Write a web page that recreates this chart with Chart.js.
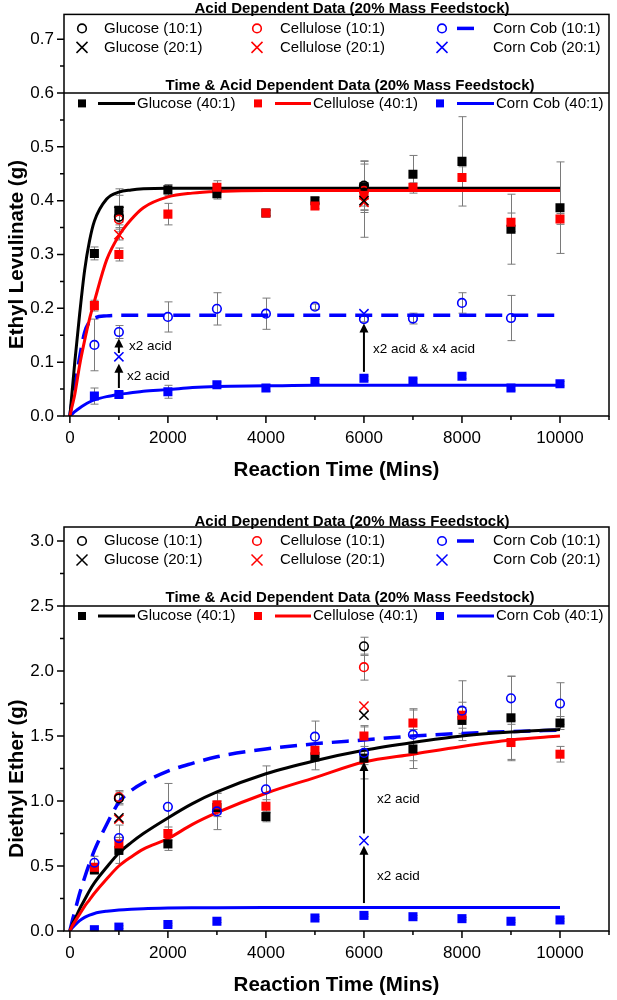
<!DOCTYPE html>
<html><head><meta charset="utf-8">
<script src="https://cdn.jsdelivr.net/npm/chart.js@4.4.1/dist/chart.umd.min.js"></script>
<style>html,body{margin:0;padding:0;background:#fff;}canvas{display:block;}</style>
</head><body>
<canvas id="c1" width="617" height="500"></canvas>
<canvas id="c2" width="617" height="500"></canvas>
<script>
// ---------- shared categories / ticks ----------
const timeMins = [500,1000,2000,3000,4000,5000,6000,7000,8000,9000,10000];
const acidTimes = [1000,6000];
const curveTime = [0,50,100,200,300,400,500,750,1000,1250,1500,2000,2500,3000,4000,5000,6000,7000,8000,9000,10000];
const xMajorTicks = [0,2000,4000,6000,8000,10000];
const xMinorTicks = [1000,3000,5000,7000,9000,11000];
const elYMajorTicks = [0,0.1,0.2,0.3,0.4,0.5,0.6,0.7];
const elYMinorTicks = [0.05,0.15,0.25,0.35,0.45,0.55,0.65];
const deYMajorTicks = [0,0.5,1.0,1.5,2.0,2.5,3.0];
const deYMinorTicks = [0.25,0.75,1.25,1.75,2.25,2.75];

// ---------- Ethyl Levulinate (top) ----------
const elGlucose40 = [0.302,0.382,0.420,0.413,0.377,0.400,0.426,0.449,0.473,0.347,0.387];
const elGlucose40Err = [0.012,0.040,0.010,0.010,0.005,0.006,0.048,0.035,0.083,0.065,0.085];
const elCellulose40 = [0.205,0.300,0.375,0.425,0.377,0.390,0.410,0.425,0.443,0.360,0.366];
const elCellulose40Err = [0.010,0.012,0.020,0.012,0.005,0.005,0.020,0.008,0.020,0.017,0.010];
const elCornCob40 = [0.037,0.040,0.045,0.058,0.052,0.064,0.070,0.065,0.074,0.052,0.060];
const elCornCob40Err = [0.015,0.005,0.012,0.005,0.006,0.004,0.004,0.004,0.004,0.004,0.004];
const elCornCob10 = [0.132,0.156,0.184,0.199,0.190,0.203,0.180,0.181,0.210,0.182,null];
const elCornCob10Err = [0.048,0.012,0.028,0.030,0.029,0.005,0.005,0.010,0.019,0.042,null];
const elGlucose10 = [0.370,0.428];
const elGlucose10Err = [0.010,0.045];
const elGlucose20 = [0.380,0.400];
const elGlucose20Err = [0.030,0.068];
const elCellulose10 = [0.365,0.418];
const elCellulose10Err = [0.010,0.015];
const elCellulose20 = [0.337,0.397];
const elCellulose20Err = [0.010,0.015];
const elCornCob20 = [0.110,0.190];
const elGlucoseFit = [0,0.05,0.10,0.19,0.27,0.325,0.362,0.403,0.416,0.420,0.422,0.423,0.423,0.423,0.423,0.423,0.423,0.423,0.423,0.423,0.423];
const elCelluloseFit = [0,0.02,0.04,0.095,0.14,0.18,0.213,0.29,0.335,0.365,0.387,0.407,0.414,0.417,0.419,0.419,0.419,0.419,0.419,0.419,0.419];
const elCornCob10Fit = [0,0.03,0.055,0.11,0.155,0.175,0.182,0.186,0.187,0.187,0.187,0.187,0.187,0.187,0.187,0.187,0.187,0.187,0.187,0.187,0.187];
const elCornCob40Fit = [0,0.004,0.008,0.015,0.021,0.026,0.030,0.036,0.040,0.043,0.046,0.049,0.053,0.055,0.056,0.057,0.057,0.057,0.057,0.057,0.057];

// ---------- Diethyl Ether (bottom) ----------
const deGlucose40 = [0.47,0.62,0.67,0.95,0.88,1.34,1.33,1.40,1.62,1.64,1.60];
const deGlucose40Err = [0.03,0.10,0.05,0.05,0.04,0.10,0.05,0.15,0.10,0.32,0.05];
const deCellulose40 = [0.49,0.67,0.75,0.97,0.96,1.39,1.50,1.60,1.66,1.45,1.36];
const deCellulose40Err = [0.03,0.05,0.05,0.09,0.05,0.05,0.08,0.10,0.10,0.14,0.06];
const deCornCob40 = [0.01,0.03,0.05,0.075,null,0.10,0.12,0.11,0.095,0.075,0.085];
const deCornCob40Err = [0.01,0.01,0.01,0.01,null,0.01,0.01,0.01,0.01,0.01,0.01];
const deCornCob10 = [0.525,0.715,0.955,0.92,1.09,1.495,1.37,1.51,1.695,1.79,1.75];
const deCornCob10Err = [0.05,0.10,0.18,0.14,0.18,0.12,0.20,0.20,0.23,0.17,0.16];
const deGlucose10 = [1.02,2.19];
const deGlucose10Err = [0.05,0.07];
const deGlucose20 = [0.87,1.66];
const deCellulose10 = [1.03,2.03];
const deCellulose10Err = [0.05,0.10];
const deCellulose20 = [0.86,1.73];
const deCornCob20 = [null,0.695];
const deGlucoseFit = [0,0.05,0.09,0.17,0.24,0.31,0.37,0.49,0.60,0.68,0.75,0.87,0.98,1.07,1.21,1.31,1.39,1.45,1.50,1.53,1.55];
const deCelluloseFit = [0,0.04,0.07,0.13,0.19,0.24,0.29,0.40,0.50,0.57,0.63,0.71,0.82,0.91,1.06,1.18,1.30,1.36,1.42,1.47,1.50];
const deCornCob10Fit = [0,0.08,0.15,0.29,0.41,0.52,0.62,0.82,0.99,1.08,1.14,1.23,1.29,1.34,1.40,1.44,1.47,1.50,1.52,1.535,1.545];
const deCornCob40Fit = [0,0.025,0.045,0.08,0.105,0.122,0.135,0.152,0.162,0.168,0.172,0.176,0.178,0.179,0.18,0.18,0.18,0.18,0.18,0.18,0.18];

// ---------- helpers ----------
const FONT = '"Liberation Sans", Arial, sans-serif';
const BLACK = '#000000', RED = '#ff0000', BLUE = '#0000ff';
const X_MIN = -120, X_MAX = 11000;

function pts(xs, ys) {
  const out = [];
  xs.forEach((x, i) => { if (ys[i] != null) out.push({x: x, y: ys[i]}); });
  return out;
}
function fitDs(ys, color, dashed) {
  return {data: pts(curveTime, ys), showLine: true, pointRadius: 0, borderColor: color,
    borderWidth: dashed ? 3.5 : 3, borderDash: dashed ? [17, 9] : [], cubicInterpolationMode: 'monotone',
    order: 10, fill: false};
}
function squareDs(xs, ys, color) {
  return {data: pts(xs, ys), pointStyle: 'rect', pointRadius: 6.4, backgroundColor: color,
    borderColor: color, borderWidth: 0, showLine: false, order: 5};
}
function circleDs(xs, ys, color) {
  return {data: pts(xs, ys), pointStyle: 'circle', pointRadius: 4.3, backgroundColor: 'rgba(255,255,255,0)',
    borderColor: color, borderWidth: 1.6, showLine: false, order: 1};
}
function crossDs(xs, ys, color) {
  return {data: pts(xs, ys), pointStyle: 'crossRot', pointRadius: 6.5, backgroundColor: color,
    borderColor: color, borderWidth: 1.5, showLine: false, order: 1};
}

function drawMarker(ctx, kind, color, x, y) {
  ctx.save();
  ctx.fillStyle = color; ctx.strokeStyle = color;
  if (kind === 'square') {
    ctx.fillRect(x - 4, y - 4, 8, 8);
  } else if (kind === 'circle') {
    ctx.lineWidth = 1.6; ctx.beginPath(); ctx.arc(x, y, 4.3, 0, Math.PI * 2); ctx.stroke();
  } else if (kind === 'cross') {
    ctx.lineWidth = 1.5; ctx.beginPath();
    ctx.moveTo(x - 5.5, y - 5.5); ctx.lineTo(x + 5.5, y + 5.5);
    ctx.moveTo(x + 5.5, y - 5.5); ctx.lineTo(x - 5.5, y + 5.5); ctx.stroke();
  }
  ctx.restore();
}
function drawSeg(ctx, color, x1, x2, y, w) {
  ctx.save(); ctx.strokeStyle = color; ctx.lineWidth = w; ctx.beginPath();
  ctx.moveTo(x1, y); ctx.lineTo(x2, y); ctx.stroke(); ctx.restore();
}

function makePlugin(cfg) {
  return {
    id: 'panel',
    beforeDatasetsDraw(chart) {
      const ctx = chart.ctx, xs = chart.scales.x, ys = chart.scales.y;
      ctx.save();
      ctx.strokeStyle = '#7a7a7a'; ctx.lineWidth = 1;
      cfg.errors.forEach(set => {
        set.x.forEach((t, i) => {
          const v = set.y[i], e = set.e[i];
          if (v == null || e == null) return;
          const px = Math.round(xs.getPixelForValue(t)) + 0.5;
          const top = ys.getPixelForValue(v + e), bot = ys.getPixelForValue(v - e);
          ctx.beginPath();
          ctx.moveTo(px, top); ctx.lineTo(px, bot);
          ctx.moveTo(px - 4, top); ctx.lineTo(px + 4, top);
          ctx.moveTo(px - 4, bot); ctx.lineTo(px + 4, bot);
          ctx.stroke();
        });
      });
      ctx.restore();
    },
    afterDraw(chart) {
      const ctx = chart.ctx, a = chart.chartArea, xs = chart.scales.x, ys = chart.scales.y;
      ctx.save();
      const sepY = ys.getPixelForValue(cfg.sepValue);
      ctx.strokeStyle = BLACK; ctx.lineWidth = 1.5;
      ctx.beginPath(); ctx.moveTo(a.left, sepY); ctx.lineTo(a.right, sepY); ctx.stroke();
      ctx.strokeRect(a.left, a.top, a.right - a.left, a.bottom - a.top);
      ctx.beginPath();
      xMajorTicks.forEach(t => { const p = xs.getPixelForValue(t); ctx.moveTo(p, a.bottom); ctx.lineTo(p, a.bottom + 7); });
      xMinorTicks.forEach(t => { const p = xs.getPixelForValue(t); ctx.moveTo(p, a.bottom); ctx.lineTo(p, a.bottom + 4); });
      cfg.yMajor.forEach(v => { const p = ys.getPixelForValue(v); ctx.moveTo(a.left, p); ctx.lineTo(a.left - 7, p); });
      cfg.yMinor.forEach(v => { const p = ys.getPixelForValue(v); ctx.moveTo(a.left, p); ctx.lineTo(a.left - 4, p); });
      ctx.stroke();
      ctx.fillStyle = BLACK;
      ctx.font = '17px ' + FONT;
      ctx.textAlign = 'center'; ctx.textBaseline = 'middle';
      xMajorTicks.forEach(t => ctx.fillText(String(t), xs.getPixelForValue(t), a.bottom + 22));
      ctx.textAlign = 'right';
      cfg.yMajor.forEach(v => ctx.fillText(v.toFixed(1), a.left - 10, ys.getPixelForValue(v)));
      ctx.font = 'bold 20.5px ' + FONT;
      ctx.textAlign = 'center';
      ctx.fillText('Reaction Time (Mins)', (a.left + a.right) / 2, a.bottom + 54);
      ctx.save();
      ctx.translate(17, (ys.getPixelForValue(0) + sepY) / 2 + cfg.yTitleShift);
      ctx.rotate(-Math.PI / 2);
      ctx.fillText(cfg.yTitle, 0, 0);
      ctx.restore();
      ctx.font = 'bold 15px ' + FONT;
      ctx.fillText('Acid Dependent Data (20% Mass Feedstock)', 352, a.top - 5.5);
      ctx.fillText('Time & Acid Dependent Data (20% Mass Feedstock)', 350, a.top + 71);
      ctx.font = '15px ' + FONT;
      ctx.textAlign = 'left';
      const r1 = a.top + 14, r2 = a.top + 33, r3 = a.top + 89;
      drawMarker(ctx, 'circle', BLACK, 82, r1); ctx.fillText('Glucose (10:1)', 104, r1);
      drawMarker(ctx, 'circle', RED, 257, r1); ctx.fillText('Cellulose (10:1)', 280, r1);
      drawMarker(ctx, 'circle', BLUE, 442, r1); drawSeg(ctx, BLUE, 457, 474, r1, 3.5); ctx.fillText('Corn Cob (10:1)', 493, r1);
      drawMarker(ctx, 'cross', BLACK, 82, r2); ctx.fillText('Glucose (20:1)', 104, r2);
      drawMarker(ctx, 'cross', RED, 257, r2); ctx.fillText('Cellulose (20:1)', 280, r2);
      drawMarker(ctx, 'cross', BLUE, 442, r2); ctx.fillText('Corn Cob (20:1)', 493, r2);
      drawMarker(ctx, 'square', BLACK, 82, r3); drawSeg(ctx, BLACK, 98, 135, r3, 3); ctx.fillText('Glucose (40:1)', 137, r3);
      drawMarker(ctx, 'square', RED, 258, r3); drawSeg(ctx, RED, 275, 311, r3, 3); ctx.fillText('Cellulose (40:1)', 313, r3);
      drawMarker(ctx, 'square', BLUE, 440, r3); drawSeg(ctx, BLUE, 457, 494, r3, 3); ctx.fillText('Corn Cob (40:1)', 496, r3);
      ctx.font = '13.5px ' + FONT;
      cfg.arrows.forEach(ar => {
        const px = xs.getPixelForValue(ar.t);
        const y1 = ys.getPixelForValue(ar.from), y2 = ys.getPixelForValue(ar.to);
        ctx.strokeStyle = BLACK; ctx.fillStyle = BLACK; ctx.lineWidth = 2;
        ctx.beginPath(); ctx.moveTo(px, y1); ctx.lineTo(px, y2 + 7); ctx.stroke();
        ctx.beginPath(); ctx.moveTo(px, y2); ctx.lineTo(px - 4.5, y2 + 9); ctx.lineTo(px + 4.5, y2 + 9); ctx.closePath(); ctx.fill();
      });
      cfg.labels.forEach(lb => {
        ctx.fillText(lb.text, xs.getPixelForValue(lb.t) + lb.dx, ys.getPixelForValue(lb.v));
      });
      ctx.restore();
    }
  };
}

function makeOptions(yMin, yMax, padTop, xHeight) {
  return {
    responsive: false, animation: false, devicePixelRatio: 1,
    layout: {padding: {top: padTop, right: 7, left: 0, bottom: 0}},
    plugins: {legend: {display: false}, tooltip: {enabled: false}},
    scales: {
      x: {type: 'linear', min: X_MIN, max: X_MAX, ticks: {display: false}, grid: {display: false},
          border: {display: false}, afterFit(s) { s.height = xHeight; }},
      y: {type: 'linear', min: yMin, max: yMax, ticks: {display: false}, grid: {display: false},
          border: {display: false}, afterFit(s) { s.width = 64; }}
    }
  };
}

new Chart(document.getElementById('c1'), {
  type: 'scatter',
  data: {datasets: [
    circleDs(acidTimes, elGlucose10, BLACK),
    circleDs(acidTimes, elCellulose10, RED),
    crossDs(acidTimes, elGlucose20, BLACK),
    crossDs(acidTimes, elCellulose20, RED),
    crossDs(acidTimes, elCornCob20, BLUE),
    circleDs(timeMins, elCornCob10, BLUE),
    squareDs(timeMins, elCornCob40, BLUE),
    squareDs(timeMins, elCellulose40, RED),
    squareDs(timeMins, elGlucose40, BLACK),
    fitDs(elCelluloseFit, RED, false),
    fitDs(elGlucoseFit, BLACK, false),
    fitDs(elCornCob10Fit, BLUE, true),
    fitDs(elCornCob40Fit, BLUE, false)
  ]},
  options: makeOptions(0, 0.746, 14.4, 84),
  plugins: [makePlugin({
    yMajor: elYMajorTicks, yMinor: elYMinorTicks, sepValue: 0.6, yTitle: 'Ethyl Levulinate (g)', yTitleShift: 0,
    errors: [
      {x: timeMins, y: elGlucose40, e: elGlucose40Err},
      {x: timeMins, y: elCellulose40, e: elCellulose40Err},
      {x: timeMins, y: elCornCob40, e: elCornCob40Err},
      {x: timeMins, y: elCornCob10, e: elCornCob10Err},
      {x: acidTimes, y: elGlucose10, e: elGlucose10Err},
      {x: acidTimes, y: elGlucose20, e: elGlucose20Err},
      {x: acidTimes, y: elCellulose10, e: elCellulose10Err},
      {x: acidTimes, y: elCellulose20, e: elCellulose20Err}
    ],
    arrows: [
      {t: 1000, from: 0.052, to: 0.097},
      {t: 1000, from: 0.117, to: 0.144},
      {t: 6000, from: 0.082, to: 0.172}
    ],
    labels: [
      {text: 'x2 acid', t: 1000, dx: 10, v: 0.130},
      {text: 'x2 acid', t: 1000, dx: 8, v: 0.074},
      {text: 'x2 acid & x4 acid', t: 6000, dx: 9, v: 0.124}
    ]
  })]
});

new Chart(document.getElementById('c2'), {
  type: 'scatter',
  data: {datasets: [
    circleDs(acidTimes, deGlucose10, BLACK),
    circleDs(acidTimes, deCellulose10, RED),
    crossDs(acidTimes, deGlucose20, BLACK),
    crossDs(acidTimes, deCellulose20, RED),
    crossDs(acidTimes, deCornCob20, BLUE),
    circleDs(timeMins, deCornCob10, BLUE),
    squareDs(timeMins, deCornCob40, BLUE),
    squareDs(timeMins, deCellulose40, RED),
    squareDs(timeMins, deGlucose40, BLACK),
    fitDs(deCelluloseFit, RED, false),
    fitDs(deGlucoseFit, BLACK, false),
    fitDs(deCornCob10Fit, BLUE, true),
    fitDs(deCornCob40Fit, BLUE, false)
  ]},
  options: makeOptions(0, 3.108, 27, 69),
  plugins: [makePlugin({
    yMajor: deYMajorTicks, yMinor: deYMinorTicks, sepValue: 2.5, yTitle: 'Diethyl Ether (g)', yTitleShift: 10,
    errors: [
      {x: timeMins, y: deGlucose40, e: deGlucose40Err},
      {x: timeMins, y: deCellulose40, e: deCellulose40Err},
      {x: timeMins, y: deCornCob40, e: deCornCob40Err},
      {x: timeMins, y: deCornCob10, e: deCornCob10Err},
      {x: acidTimes, y: deGlucose10, e: deGlucose10Err},
      {x: acidTimes, y: deCellulose10, e: deCellulose10Err}
    ],
    arrows: [
      {t: 6000, from: 0.215, to: 0.655},
      {t: 6000, from: 0.75, to: 1.30}
    ],
    labels: [
      {text: 'x2 acid', t: 6000, dx: 13, v: 0.418},
      {text: 'x2 acid', t: 6000, dx: 13, v: 1.015}
    ]
  })]
});
</script>
</body></html>
